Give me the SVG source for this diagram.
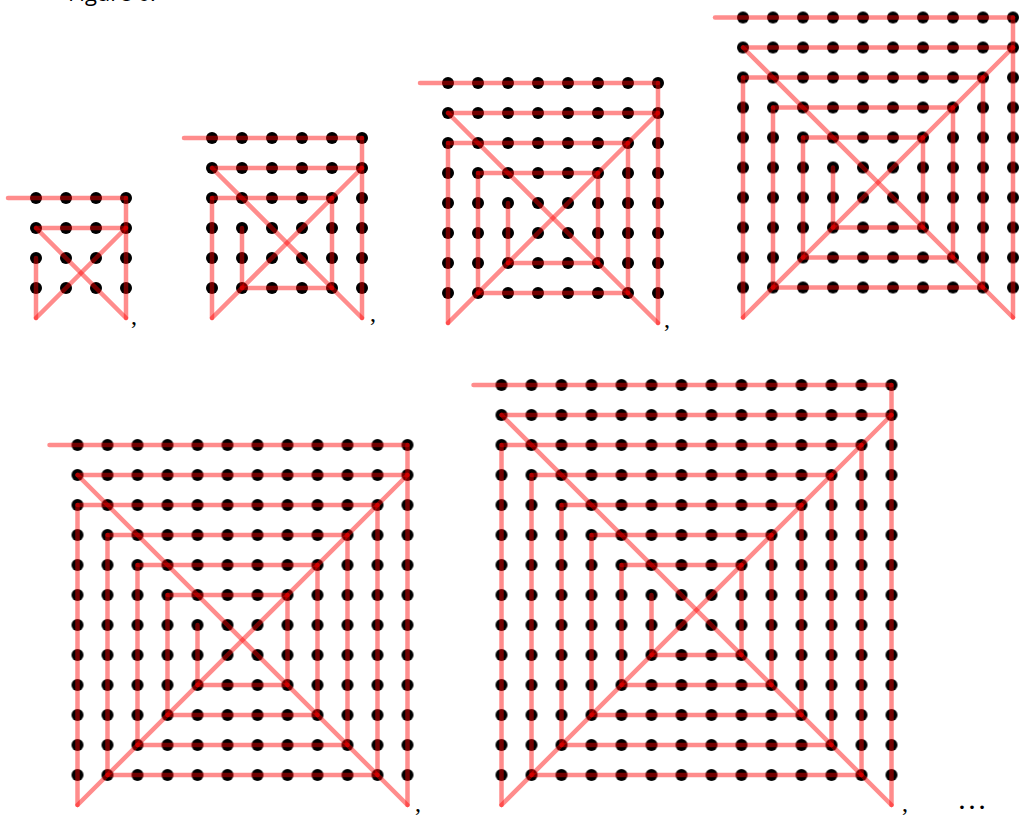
<svg xmlns="http://www.w3.org/2000/svg" width="1019" height="816" viewBox="0 0 1019 816">
<style>
.seg{stroke:#ff0000;stroke-opacity:0.45;stroke-width:4.5;stroke-linecap:round;fill:none}
.punct{font-family:"Liberation Serif",serif;font-size:24px;fill:#000}
.cap{font-family:"Open Sans","Liberation Sans",sans-serif;font-size:22px;fill:#000}
</style>
<defs>
<pattern id="dots" patternUnits="userSpaceOnUse" x="0" y="0" width="30" height="30">
<circle cx="15" cy="15" r="6" fill="#000"/>
</pattern>
</defs>
<rect width="1019" height="816" fill="#fff"/>
<text class="cap" x="68" y="1">Figure 6.</text>

<g id="grid4" transform="translate(21,183)"><rect width="120" height="120" fill="url(#dots)"/></g>
<g id="grid6" transform="translate(197,123)"><rect width="180" height="180" fill="url(#dots)"/></g>
<g id="grid8" transform="translate(433,68)"><rect width="240" height="240" fill="url(#dots)"/></g>
<g id="grid10" transform="translate(728,2.5)"><rect width="300" height="300" fill="url(#dots)"/></g>
<g id="grid12" transform="translate(62.5,430)"><rect width="360" height="360" fill="url(#dots)"/></g>
<g id="grid14" transform="translate(486.5,370)"><rect width="420" height="420" fill="url(#dots)"/></g>

<g id="connectors">
<g id="path4" transform="translate(21,183)">
<line class="seg" x1="-13" y1="15" x2="105" y2="15"/>
<line class="seg" x1="105" y1="15" x2="105" y2="135"/>
<line class="seg" x1="105" y1="135" x2="15" y2="45"/>
<line class="seg" x1="15" y1="45" x2="105" y2="45"/>
<line class="seg" x1="105" y1="45" x2="15" y2="135"/>
<line class="seg" x1="15" y1="135" x2="15" y2="75"/>
</g>
<g id="path6" transform="translate(197,123)">
<line class="seg" x1="-13" y1="15" x2="165" y2="15"/>
<line class="seg" x1="165" y1="15" x2="165" y2="195"/>
<line class="seg" x1="165" y1="195" x2="15" y2="45"/>
<line class="seg" x1="15" y1="45" x2="165" y2="45"/>
<line class="seg" x1="165" y1="45" x2="15" y2="195"/>
<line class="seg" x1="15" y1="195" x2="15" y2="75"/>
<line class="seg" x1="15" y1="75" x2="135" y2="75"/>
<line class="seg" x1="135" y1="75" x2="135" y2="165"/>
<line class="seg" x1="135" y1="165" x2="45" y2="165"/>
<line class="seg" x1="45" y1="165" x2="45" y2="105"/>
</g>
<g id="path8" transform="translate(433,68)">
<line class="seg" x1="-13" y1="15" x2="225" y2="15"/>
<line class="seg" x1="225" y1="15" x2="225" y2="255"/>
<line class="seg" x1="225" y1="255" x2="15" y2="45"/>
<line class="seg" x1="15" y1="45" x2="225" y2="45"/>
<line class="seg" x1="225" y1="45" x2="15" y2="255"/>
<line class="seg" x1="15" y1="255" x2="15" y2="75"/>
<line class="seg" x1="15" y1="75" x2="195" y2="75"/>
<line class="seg" x1="195" y1="75" x2="195" y2="225"/>
<line class="seg" x1="195" y1="225" x2="45" y2="225"/>
<line class="seg" x1="45" y1="225" x2="45" y2="105"/>
<line class="seg" x1="45" y1="105" x2="165" y2="105"/>
<line class="seg" x1="165" y1="105" x2="165" y2="195"/>
<line class="seg" x1="165" y1="195" x2="75" y2="195"/>
<line class="seg" x1="75" y1="195" x2="75" y2="135"/>
</g>
<g id="path10" transform="translate(728,2.5)">
<line class="seg" x1="-13" y1="15" x2="285" y2="15"/>
<line class="seg" x1="285" y1="15" x2="285" y2="315"/>
<line class="seg" x1="285" y1="315" x2="15" y2="45"/>
<line class="seg" x1="15" y1="45" x2="285" y2="45"/>
<line class="seg" x1="285" y1="45" x2="15" y2="315"/>
<line class="seg" x1="15" y1="315" x2="15" y2="75"/>
<line class="seg" x1="15" y1="75" x2="255" y2="75"/>
<line class="seg" x1="255" y1="75" x2="255" y2="285"/>
<line class="seg" x1="255" y1="285" x2="45" y2="285"/>
<line class="seg" x1="45" y1="285" x2="45" y2="105"/>
<line class="seg" x1="45" y1="105" x2="225" y2="105"/>
<line class="seg" x1="225" y1="105" x2="225" y2="255"/>
<line class="seg" x1="225" y1="255" x2="75" y2="255"/>
<line class="seg" x1="75" y1="255" x2="75" y2="135"/>
<line class="seg" x1="75" y1="135" x2="195" y2="135"/>
<line class="seg" x1="195" y1="135" x2="195" y2="225"/>
<line class="seg" x1="195" y1="225" x2="105" y2="225"/>
<line class="seg" x1="105" y1="225" x2="105" y2="165"/>
</g>
<g id="path12" transform="translate(62.5,430)">
<line class="seg" x1="-13" y1="15" x2="345" y2="15"/>
<line class="seg" x1="345" y1="15" x2="345" y2="375"/>
<line class="seg" x1="345" y1="375" x2="15" y2="45"/>
<line class="seg" x1="15" y1="45" x2="345" y2="45"/>
<line class="seg" x1="345" y1="45" x2="15" y2="375"/>
<line class="seg" x1="15" y1="375" x2="15" y2="75"/>
<line class="seg" x1="15" y1="75" x2="315" y2="75"/>
<line class="seg" x1="315" y1="75" x2="315" y2="345"/>
<line class="seg" x1="315" y1="345" x2="45" y2="345"/>
<line class="seg" x1="45" y1="345" x2="45" y2="105"/>
<line class="seg" x1="45" y1="105" x2="285" y2="105"/>
<line class="seg" x1="285" y1="105" x2="285" y2="315"/>
<line class="seg" x1="285" y1="315" x2="75" y2="315"/>
<line class="seg" x1="75" y1="315" x2="75" y2="135"/>
<line class="seg" x1="75" y1="135" x2="255" y2="135"/>
<line class="seg" x1="255" y1="135" x2="255" y2="285"/>
<line class="seg" x1="255" y1="285" x2="105" y2="285"/>
<line class="seg" x1="105" y1="285" x2="105" y2="165"/>
<line class="seg" x1="105" y1="165" x2="225" y2="165"/>
<line class="seg" x1="225" y1="165" x2="225" y2="255"/>
<line class="seg" x1="225" y1="255" x2="135" y2="255"/>
<line class="seg" x1="135" y1="255" x2="135" y2="195"/>
</g>
<g id="path14" transform="translate(486.5,370)">
<line class="seg" x1="-13" y1="15" x2="405" y2="15"/>
<line class="seg" x1="405" y1="15" x2="405" y2="435"/>
<line class="seg" x1="405" y1="435" x2="15" y2="45"/>
<line class="seg" x1="15" y1="45" x2="405" y2="45"/>
<line class="seg" x1="405" y1="45" x2="15" y2="435"/>
<line class="seg" x1="15" y1="435" x2="15" y2="75"/>
<line class="seg" x1="15" y1="75" x2="375" y2="75"/>
<line class="seg" x1="375" y1="75" x2="375" y2="405"/>
<line class="seg" x1="375" y1="405" x2="45" y2="405"/>
<line class="seg" x1="45" y1="405" x2="45" y2="105"/>
<line class="seg" x1="45" y1="105" x2="345" y2="105"/>
<line class="seg" x1="345" y1="105" x2="345" y2="375"/>
<line class="seg" x1="345" y1="375" x2="75" y2="375"/>
<line class="seg" x1="75" y1="375" x2="75" y2="135"/>
<line class="seg" x1="75" y1="135" x2="315" y2="135"/>
<line class="seg" x1="315" y1="135" x2="315" y2="345"/>
<line class="seg" x1="315" y1="345" x2="105" y2="345"/>
<line class="seg" x1="105" y1="345" x2="105" y2="165"/>
<line class="seg" x1="105" y1="165" x2="285" y2="165"/>
<line class="seg" x1="285" y1="165" x2="285" y2="315"/>
<line class="seg" x1="285" y1="315" x2="135" y2="315"/>
<line class="seg" x1="135" y1="315" x2="135" y2="195"/>
<line class="seg" x1="135" y1="195" x2="255" y2="195"/>
<line class="seg" x1="255" y1="195" x2="255" y2="285"/>
<line class="seg" x1="255" y1="285" x2="165" y2="285"/>
<line class="seg" x1="165" y1="285" x2="165" y2="225"/>
</g>
</g>

<g id="labels">
<text class="punct" x="131" y="324">,</text>
<text class="punct" x="370" y="321">,</text>
<text class="punct" x="664" y="327">,</text>
<text class="punct" x="415" y="811">,</text>
<text class="punct" x="902" y="811">,</text>
<text class="punct" x="957" y="809" style="font-size:30px">…</text>
</g>
</svg>
